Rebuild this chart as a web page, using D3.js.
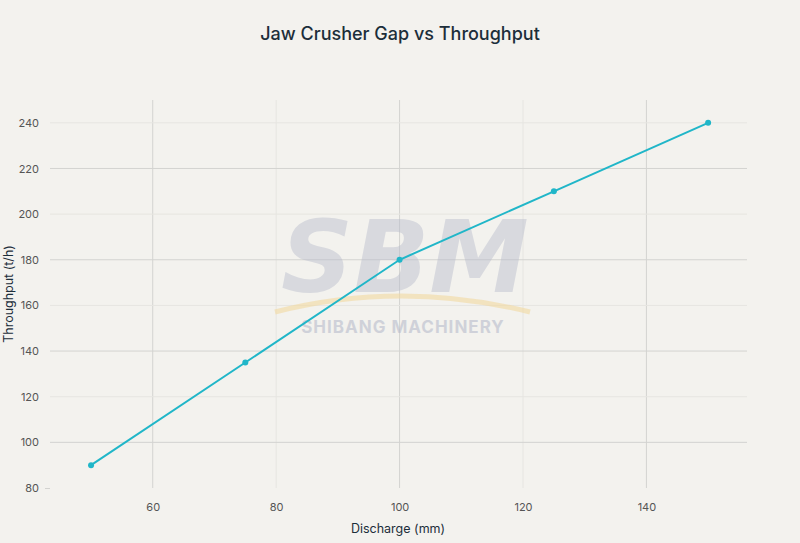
<!DOCTYPE html>
<html><head><meta charset="utf-8">
<script src="https://cdn.jsdelivr.net/npm/d3@7"></script>
<style>body{margin:0;background:#f3f2ee}svg{display:block}</style>
</head><body><svg width="800" height="543"></svg>
<script>
const discharge=[50,75,100,125,150];
const throughput=[90,135,180,210,240];
const xTicks=[60,80,100,120,140];
const yTicks=[80,100,120,140,160,180,200,220,240];
const svg=d3.select("svg");
svg.append("rect").attr("width",800).attr("height",543).attr("fill","#f3f2ee");
const L=50,R=747,T=100,B=488;
const x=d3.scaleLinear().domain([43.35,156.3]).range([L,R]);
const y=d3.scaleLinear().domain([80,250]).range([B,T]);
const font="Inter, 'Open Sans', sans-serif";
svg.append("g").selectAll("line").data(xTicks).join("line")
 .attr("x1",d=>x(d)).attr("x2",d=>x(d)).attr("y1",T).attr("y2",B)
 .attr("stroke",d=>d%40===0?"#e6e5e1":"#d3d3d0").attr("stroke-width",1);
svg.append("g").selectAll("line").data(yTicks.slice(1)).join("line")
 .attr("x1",L).attr("x2",R).attr("y1",d=>y(d)).attr("y2",d=>y(d))
 .attr("stroke",d=>d%40===0?"#e6e5e1":"#d3d3d0").attr("stroke-width",1);
svg.append("text").attr("x",405).attr("y",292).attr("text-anchor","middle")
 .attr("font-family","'DejaVu Sans', sans-serif").attr("font-weight","bold").attr("font-size",100)
 .attr("fill","#b8bccc").attr("opacity",0.45).attr("font-style","italic").text("SBM");
svg.append("text").attr("x",403).attr("y",333).attr("text-anchor","middle")
 .attr("font-family",font).attr("font-weight","bold").attr("font-size",17)
 .attr("fill","#b8bccc").attr("opacity",0.6).attr("letter-spacing",1).text("SHIBANG MACHINERY");
svg.append("path").attr("d","M275,312 Q400,280 530,312").attr("fill","none")
 .attr("stroke","#f2d9a0").attr("stroke-width",5).attr("opacity",0.6);
const yAxis=svg.append("g").attr("transform",`translate(${L},0)`)
 .call(d3.axisLeft(y).tickValues(yTicks).tickSize(5).tickPadding(6));
yAxis.select(".domain").remove();
yAxis.selectAll("line").attr("stroke",d=>d===80?"#d3d3d0":"none");
yAxis.selectAll("text").attr("font-family",font).attr("font-size",11).attr("fill","#555");
const xAxis=svg.append("g").attr("transform",`translate(0,${B})`)
 .call(d3.axisBottom(x).tickValues(xTicks).tickSize(0).tickPadding(15));
xAxis.select(".domain").remove();
xAxis.selectAll("text").attr("font-family",font).attr("font-size",11).attr("fill","#555");
svg.append("path").datum(discharge.map((d,i)=>[d,throughput[i]]))
 .attr("fill","none").attr("stroke","#20b6c8").attr("stroke-width",2)
 .attr("d",d3.line().x(d=>x(d[0])).y(d=>y(d[1])));
svg.append("g").selectAll("circle").data(discharge).join("circle")
 .attr("cx",d=>x(d)).attr("cy",(d,i)=>y(throughput[i])).attr("r",3).attr("fill","#20b6c8");
svg.append("text").attr("x",400).attr("y",40).attr("text-anchor","middle")
 .attr("font-family",font).attr("font-size",18).attr("font-weight",500).attr("fill","#1c2e3a")
 .text("Jaw Crusher Gap vs Throughput");
svg.append("text").attr("x",398).attr("y",533).attr("text-anchor","middle")
 .attr("font-family",font).attr("font-size",12.5).attr("fill","#1c2e3a").text("Discharge (mm)");
svg.append("text").attr("transform","translate(13,294) rotate(-90)").attr("text-anchor","middle")
 .attr("font-family",font).attr("font-size",12.5).attr("fill","#1c2e3a").text("Throughput (t/h)");
</script></body></html>
